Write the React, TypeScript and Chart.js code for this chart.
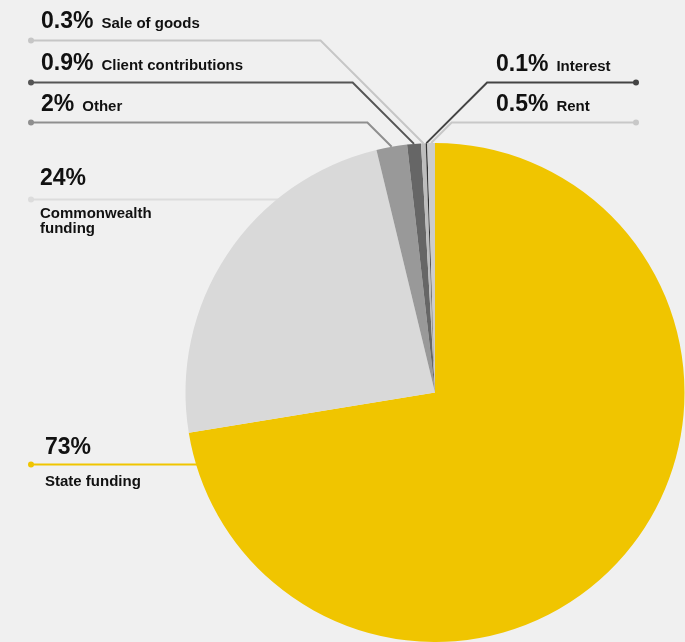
import React, { useEffect, useRef } from "react";
import { Chart, registerables } from "chart.js";

Chart.register(...registerables);

// Revenue sources, in clockwise order from 12 o'clock
const categories = [
  "State funding",
  "Commonwealth funding",
  "Other",
  "Client contributions",
  "Sale of goods",
  "Interest",
  "Rent",
];
const shares = [73, 24, 2, 0.9, 0.3, 0.1, 0.5];
const percentLabels = ["73%", "24%", "2%", "0.9%", "0.3%", "0.1%", "0.5%"];
const sliceColors = ["#f0c500", "#d9d9d9", "#999999", "#666666", "#bdbdbd", "#333333", "#cccccc"];
const lineColors = ["#f0c500", "#dcdcdc", "#8f8f8f", "#555555", "#c6c6c6", "#444444", "#c8c8c8"];

type Callout = {
  side: "left" | "right";
  lineY: number; // y of the horizontal leader segment
  textX: number;
  pctBase: number; // baseline of the percentage
  nameLines: string[];
  inline: boolean; // name follows the percentage on the same line
  nameBase?: number;
  kind: "elbow" | "straight";
};

const callouts: Callout[] = [
  { side: "left", lineY: 464.5, textX: 45, pctBase: 454, nameLines: ["State funding"], inline: false, nameBase: 486, kind: "straight" },
  { side: "left", lineY: 199.5, textX: 40, pctBase: 185, nameLines: ["Commonwealth", "funding"], inline: false, nameBase: 218, kind: "straight" },
  { side: "left", lineY: 122.5, textX: 41, pctBase: 110.5, nameLines: ["Other"], inline: true, kind: "elbow" },
  { side: "left", lineY: 82.5, textX: 41, pctBase: 70, nameLines: ["Client contributions"], inline: true, kind: "elbow" },
  { side: "left", lineY: 40.5, textX: 41, pctBase: 27.5, nameLines: ["Sale of goods"], inline: true, kind: "elbow" },
  { side: "right", lineY: 82.5, textX: 496, pctBase: 70.5, nameLines: ["Interest"], inline: true, kind: "elbow" },
  { side: "right", lineY: 122.5, textX: 496, pctBase: 111, nameLines: ["Rent"], inline: true, kind: "elbow" },
];

const FONT = '"Liberation Sans", Arial, Helvetica, sans-serif';
const LEFT_DOT_X = 31;
const RIGHT_DOT_X = 636;

const calloutPlugin = {
  id: "callouts",
  beforeDatasetsDraw(chart: any) {
    const ctx = chart.ctx as CanvasRenderingContext2D;
    const meta = chart.getDatasetMeta(0);
    ctx.save();
    ctx.lineWidth = 2;
    callouts.forEach((c, i) => {
      const arc = meta.data[i];
      if (!arc) return;
      const { x, y, startAngle, endAngle, outerRadius } = arc.getProps(
        ["x", "y", "startAngle", "endAngle", "outerRadius"],
        true
      );
      const mid = (startAngle + endAngle) / 2;
      const ax = x + Math.cos(mid) * outerRadius;
      const ay = y + Math.sin(mid) * outerRadius;
      const dotX = c.side === "left" ? LEFT_DOT_X : RIGHT_DOT_X;
      ctx.strokeStyle = lineColors[i];
      ctx.beginPath();
      ctx.moveTo(dotX, c.lineY);
      if (c.kind === "straight") {
        // runs under the pie, which covers the rest of it
        ctx.lineTo(x, c.lineY);
      } else {
        const rise = ay - c.lineY;
        const elbowX = c.side === "left" ? ax - rise : ax + rise;
        ctx.lineTo(elbowX, c.lineY);
        ctx.lineTo(ax, ay);
      }
      ctx.stroke();
    });
    ctx.restore();
  },
  afterDraw(chart: any) {
    const ctx = chart.ctx as CanvasRenderingContext2D;
    ctx.save();
    ctx.textBaseline = "alphabetic";
    ctx.textAlign = "left";
    callouts.forEach((c, i) => {
      const dotX = c.side === "left" ? LEFT_DOT_X : RIGHT_DOT_X;
      ctx.fillStyle = lineColors[i];
      ctx.beginPath();
      ctx.arc(dotX, c.lineY, 3, 0, Math.PI * 2);
      ctx.fill();

      ctx.fillStyle = "#111111";
      ctx.font = `bold 23px ${FONT}`;
      ctx.fillText(percentLabels[i], c.textX, c.pctBase);
      const pctW = ctx.measureText(percentLabels[i]).width;
      ctx.font = `bold 15px ${FONT}`;
      if (c.inline) {
        ctx.fillText(c.nameLines[0], c.textX + pctW + 8, c.pctBase);
      } else {
        c.nameLines.forEach((t, k) => {
          ctx.fillText(t, c.textX, (c.nameBase as number) + k * 15);
        });
      }
    });
    ctx.restore();
  },
};

export default function App() {
  const canvasRef = useRef<HTMLCanvasElement | null>(null);

  useEffect(() => {
    const canvas = canvasRef.current;
    if (!canvas) return;
    const chart = new Chart(canvas, {
      type: "pie",
      data: {
        labels: categories,
        datasets: [
          {
            data: shares,
            backgroundColor: sliceColors,
            borderWidth: 0,
          },
        ],
      },
      options: {
        responsive: false,
        animation: false,
        devicePixelRatio: 1,
        layout: { padding: { left: 185, top: 143, right: 0, bottom: 0 } },
        plugins: {
          legend: { display: false },
          tooltip: { enabled: false },
        },
      },
      plugins: [calloutPlugin],
    });
    return () => chart.destroy();
  }, []);

  return (
    <div
      style={{
        position: "absolute",
        left: 0,
        top: 0,
        width: 685,
        height: 642,
        background: "#f0f0f0",
        overflow: "hidden",
      }}
    >
      <canvas ref={canvasRef} width={685} height={642} style={{ display: "block" }} />
    </div>
  );
}
